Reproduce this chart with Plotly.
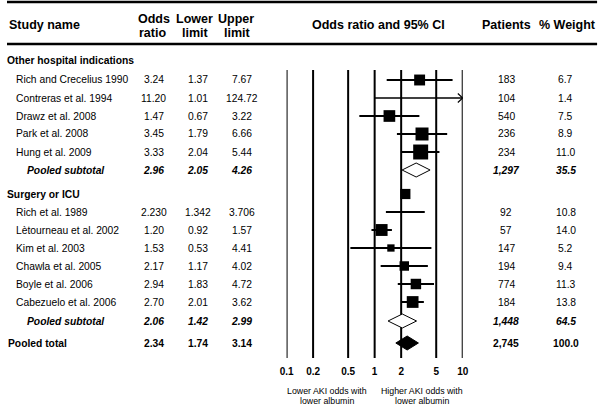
import plotly.graph_objects as go
import numpy as np

W, H = 607, 407
FONT = "Liberation Sans, Arial, sans-serif"

# ---------------- data ----------------
group_names = ["Other hospital indications", "Surgery or ICU"]

g1_studies = ["Rich and Crecelius 1990", "Contreras et al. 1994", "Drawz et al. 2008",
              "Park et al. 2008", "Hung et al. 2009"]
g1_or = ["3.24", "11.20", "1.47", "3.45", "3.33"]
g1_lo = ["1.37", "1.01", "0.67", "1.79", "2.04"]
g1_hi = ["7.67", "124.72", "3.22", "6.66", "5.44"]
g1_patients = [183, 104, 540, 236, 234]
g1_weight = [6.7, 1.4, 7.5, 8.9, 11.0]
g1_subtotal = ["2.96", "2.05", "4.26"]
g1_sub_patients = 1297
g1_sub_weight = 35.5

g2_studies = ["Rich et al. 1989", "Lètourneau et al. 2002", "Kim et al. 2003",
              "Chawla et al. 2005", "Boyle et al. 2006", "Cabezuelo et al. 2006"]
g2_or = ["2.230", "1.20", "1.53", "2.17", "2.94", "2.70"]
g2_lo = ["1.342", "0.92", "0.53", "1.17", "1.83", "2.01"]
g2_hi = ["3.706", "1.57", "4.41", "4.02", "4.72", "3.62"]
g2_patients = [92, 57, 147, 194, 774, 184]
g2_weight = [10.8, 14.0, 5.2, 9.4, 11.3, 13.8]
g2_subtotal = ["2.06", "1.42", "2.99"]
g2_sub_patients = 1448
g2_sub_weight = 64.5

total = ["2.34", "1.74", "3.14"]
total_patients = 2745
total_weight = 100.0

tick_vals = [0.1, 0.2, 0.5, 1, 2, 5, 10]
tick_labels = ["0.1", "0.2", "0.5", "1", "2", "5", "10"]

# ---------------- layout constants (pixels) ----------------
GROUP_Y = [60, 194]
STUDY_Y0 = [80, 212]
STEP = 18
SUB_Y = [170, 321]
TOTAL_Y = 343
X_NAME, X_SUBNAME, X_GROUP = 9.5, 20.5, 0.5
X_OR, X_LO, X_HI, X_PAT, X_WT = 150, 195, 240, 510, 571
AX_LEFT, AX_RIGHT = 285.7, 465.7
PLOT_BOTTOM = 360
XMIN, XMAX = min(tick_vals), max(tick_vals)
FS = 10.3
# quirk of the original figure: one square is drawn on the row above
square_row_shift = {"Rich et al. 1989": -1}

groups = [
    dict(name=group_names[0], studies=g1_studies, orr=g1_or, lo=g1_lo, hi=g1_hi,
         pat=g1_patients, wt=g1_weight, sub=g1_subtotal, sub_pat=g1_sub_patients,
         sub_wt=g1_sub_weight),
    dict(name=group_names[1], studies=g2_studies, orr=g2_or, lo=g2_lo, hi=g2_hi,
         pat=g2_patients, wt=g2_weight, sub=g2_subtotal, sub_pat=g2_sub_patients,
         sub_wt=g2_sub_weight),
]

annotations = []


def txt(s, x, y, anchor="center", size=FS, bold=False, italic=False):
    if italic:
        s = "<i>" + s + "</i>"
    if bold:
        s = "<b>" + s + "</b>"
    annotations.append(dict(text=s, x=x / W, y=1 - y / H, xref="paper", yref="paper",
                            xanchor=anchor, yanchor="middle", showarrow=False,
                            borderpad=0, borderwidth=0,
                            font=dict(size=size, family=FONT, color="black")))


fig = go.Figure()

# vertical reference lines
vx, vy = [], []
for v in tick_vals:
    vx += [v, v, None]
    vy += [70, 358, None]
fig.add_trace(go.Scatter(x=vx, y=vy, mode="lines", line=dict(color="black", width=2),
                         hoverinfo="skip", cliponaxis=False))

ci_x, ci_y = [], []
tr_x, tr_y = [], []
sq_x, sq_y, sq_s = [], [], []
arrows = []
diamonds = []

for gi, g in enumerate(groups):
    txt(g["name"], X_GROUP, GROUP_Y[gi], anchor="left", bold=True)
    row_ys = [STUDY_Y0[gi] + STEP * i for i in range(len(g["studies"]))]
    all_rows = [GROUP_Y[gi]] + row_ys
    for i, name in enumerate(g["studies"]):
        y = row_ys[i]
        orv, lov, hiv = float(g["orr"][i]), float(g["lo"][i]), float(g["hi"][i])
        txt(name, X_NAME, y, anchor="left")
        txt(g["orr"][i], X_OR, y)
        txt(g["lo"][i], X_LO, y)
        txt(g["hi"][i], X_HI, y)
        txt(f"{g['pat'][i]:,}", X_PAT, y)
        txt(f"{g['wt'][i]:.1f}", X_WT, y)
        if hiv > XMAX or lov < XMIN:
            tr_x += [max(lov, XMIN), min(hiv, XMAX), None]
            tr_y += [y, y, None]
        else:
            ci_x += [lov, hiv, None]
            ci_y += [y, y, None]
        if hiv > XMAX:
            arrows.append(y)
        if XMIN <= orv <= XMAX:
            within = g["wt"][i] / g["sub_wt"] * 100
            sq_x.append(orv)
            sq_y.append(all_rows[i + 1 + square_row_shift.get(name, 0)])
            sq_s.append(4.6 + 0.335 * within)
    ys = SUB_Y[gi]
    txt("Pooled subtotal", X_SUBNAME, ys, anchor="left", bold=True, italic=True)
    txt(g["sub"][0], X_OR, ys, bold=True, italic=True)
    txt(g["sub"][1], X_LO, ys, bold=True, italic=True)
    txt(g["sub"][2], X_HI, ys, bold=True, italic=True)
    txt(f"{g['sub_pat']:,}", X_PAT, ys, bold=True, italic=True)
    txt(f"{g['sub_wt']:.1f}", X_WT, ys, bold=True, italic=True)
    diamonds.append((g["sub"], ys, "white"))

txt("Pooled total", 1, TOTAL_Y, anchor="left", bold=True)
txt(total[0], X_OR, TOTAL_Y, bold=True)
txt(total[1], X_LO, TOTAL_Y, bold=True)
txt(total[2], X_HI, TOTAL_Y, bold=True)
txt(f"{total_patients:,}", X_PAT, TOTAL_Y, bold=True)
txt(f"{total_weight:.1f}", X_WT, TOTAL_Y, bold=True)
diamonds.append((total, TOTAL_Y, "black"))

# confidence interval lines
fig.add_trace(go.Scatter(x=ci_x, y=ci_y, mode="lines", line=dict(color="black", width=2),
                         hoverinfo="skip", cliponaxis=False))
# truncated intervals (thinner) with arrow heads
fig.add_trace(go.Scatter(x=tr_x, y=tr_y, mode="lines", line=dict(color="black", width=1.3),
                         hoverinfo="skip", cliponaxis=False))
px_per_decade = (AX_RIGHT - AX_LEFT) / np.log10(XMAX / XMIN)
f = 10 ** (-5 / px_per_decade)
for y in arrows:
    fig.add_trace(go.Scatter(x=[XMAX * f, XMAX, XMAX * f], y=[y - 4.5, y, y + 4.5],
                             mode="lines", line=dict(color="black", width=1.2),
                             hoverinfo="skip", cliponaxis=False))
# squares
fig.add_trace(go.Scatter(x=sq_x, y=sq_y, mode="markers",
                         marker=dict(symbol="square", size=sq_s, color="#000000",
                                     opacity=1, line=dict(width=0)),
                         opacity=1, hoverinfo="skip", cliponaxis=False))
# diamonds
for vals, y, fill in diamonds:
    o, l, u = (float(v) for v in vals)
    fig.add_trace(go.Scatter(x=[l, o, u, o, l], y=[y, y - 7, y, y + 7, y], mode="lines",
                             fill="toself", fillcolor=fill,
                             line=dict(color="black", width=1),
                             hoverinfo="skip", cliponaxis=False))

# headers
HS = 12.5
txt("Study name", 2, 25, anchor="left", size=HS, bold=True)
txt("Odds", 150, 19, size=HS, bold=True)
txt("ratio", 149, 33, size=HS, bold=True)
txt("Lower", 192, 19, size=HS, bold=True)
txt("limit", 193, 33, size=HS, bold=True)
txt("Upper", 234, 19, size=HS, bold=True)
txt("limit", 236, 33, size=HS, bold=True)
txt("Odds ratio and 95% CI", 380, 25, size=HS, bold=True)
txt("Patients", 510, 25, size=HS, bold=True)
txt("% Weight", 573, 25, size=HS, bold=True)

# footnotes under axis
txt("Lower AKI odds with", 327, 391, size=8.8)
txt("lower albumin", 327, 401, size=8.8)
txt("Higher AKI odds with", 424, 391, size=8.8)
txt("lower albumin", 424, 401, size=8.8)

shapes = []
for yy in [2, 44]:
    shapes.append(dict(type="line", xref="paper", yref="paper", x0=0, x1=603 / W,
                       y0=1 - yy / H, y1=1 - yy / H, line=dict(color="black", width=2.5)))

fig.update_layout(
    width=W, height=H, margin=dict(l=0, r=0, t=0, b=0),
    paper_bgcolor="white", plot_bgcolor="white", showlegend=False,
    annotations=annotations, shapes=shapes,
    xaxis=dict(type="log", range=[np.log10(XMIN), np.log10(XMAX)],
               domain=[AX_LEFT / W, AX_RIGHT / W], tickvals=tick_vals,
               ticktext=["<b>" + t + "</b>" for t in tick_labels],
               tickfont=dict(size=10, family=FONT, color="black"),
               showgrid=False, zeroline=False, showline=False, ticks="",
               ticklabelstandoff=4, fixedrange=True),
    yaxis=dict(range=[PLOT_BOTTOM, 0], domain=[1 - PLOT_BOTTOM / H, 1], visible=False,
               fixedrange=True),
)

fig.write_html("out.html", config={"displayModeBar": False},
               post_script="document.body.style.margin='0';document.body.style.overflow='hidden';")
